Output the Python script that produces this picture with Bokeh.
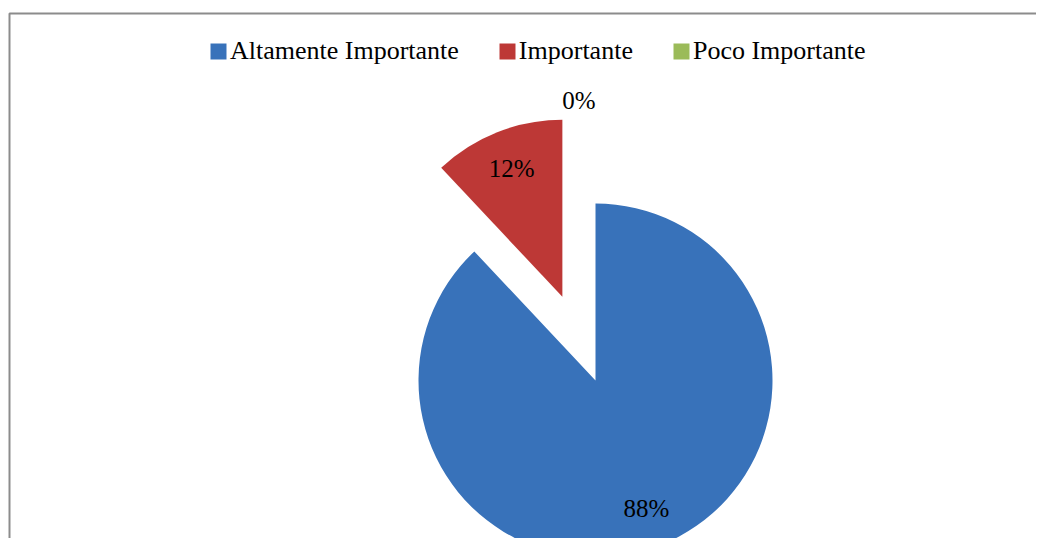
import math
from bokeh.plotting import figure
from bokeh.models import Range1d, ColumnDataSource, Legend, LegendItem
from bokeh.embed import file_html
from bokeh.resources import INLINE

# ---- data ----
categories = ["Altamente Importante", "Importante", "Poco Importante"]
values = [88, 12, 0]
labels = ["88%", "12%", "0%"]
colors = ["#3872BA", "#BD3836", "#9BBB59"]
explode = [0, 90, 0]

W, H = 1036, 538
p = figure(width=W, height=H, output_backend="svg", toolbar_location=None,
           x_range=Range1d(0, W), y_range=Range1d(0, H),
           x_axis_location=None, y_axis_location=None, min_border=0)
p.grid.visible = False
p.outline_line_color = None
p.background_fill_color = "white"
p.border_fill_color = "white"

# chart frame (left and top edges)
p.line(x=[9, 9, W], y=[0, 525, 525], line_color="#8C8C8C", line_width=2)

cx, cy, r = 595, 158, 177
total = sum(values)
cum = 0
items = []
font = "Times New Roman"
for cat, v, lab, col, ex in zip(categories, values, labels, colors, explode):
    start = 90 - cum / total * 360
    end = 90 - (cum + v) / total * 360
    mid = math.radians((start + end) / 2)
    ox = cx + ex * math.cos(mid)
    oy = cy + ex * math.sin(mid)
    if v > 0:
        src = ColumnDataSource(dict(x=[ox], y=[oy]))
        p.wedge(x="x", y="y", radius=r, start_angle=math.radians(start),
                end_angle=math.radians(end), direction="clock",
                fill_color=col, line_color=None, source=src)
    # legend swatch renderer (not drawn in plot area)
    sw = p.rect(x=[float("nan")], y=[float("nan")], width=1, height=1,
                fill_color=col, line_color=None)
    items.append(LegendItem(label=cat, renderers=[sw]))
    if v / total >= 0.05:
        d = 0.78 * r
        tx, ty, align = ox + d * math.cos(mid), oy + d * math.sin(mid), "center"
    else:
        d = 1.58 * r
        tx, ty, align = ox + d * math.cos(mid), oy + d * math.sin(mid), "right"
    p.text(x=[tx], y=[ty], text=[lab], text_align=align, text_baseline="middle",
           text_font=font, text_font_size="25px", text_color="black")
    cum += v

legend = Legend(items=items, orientation="horizontal", location=(208, 472),
                glyph_width=20, glyph_height=20, label_standoff=2, spacing=38,
                padding=0, margin=0, border_line_color=None,
                background_fill_alpha=0,
                label_text_font=font, label_text_font_size="26px",
                label_text_color="black", label_height=30)
p.add_layout(legend, "center")

open("out.html", "w").write(file_html(p, INLINE))
